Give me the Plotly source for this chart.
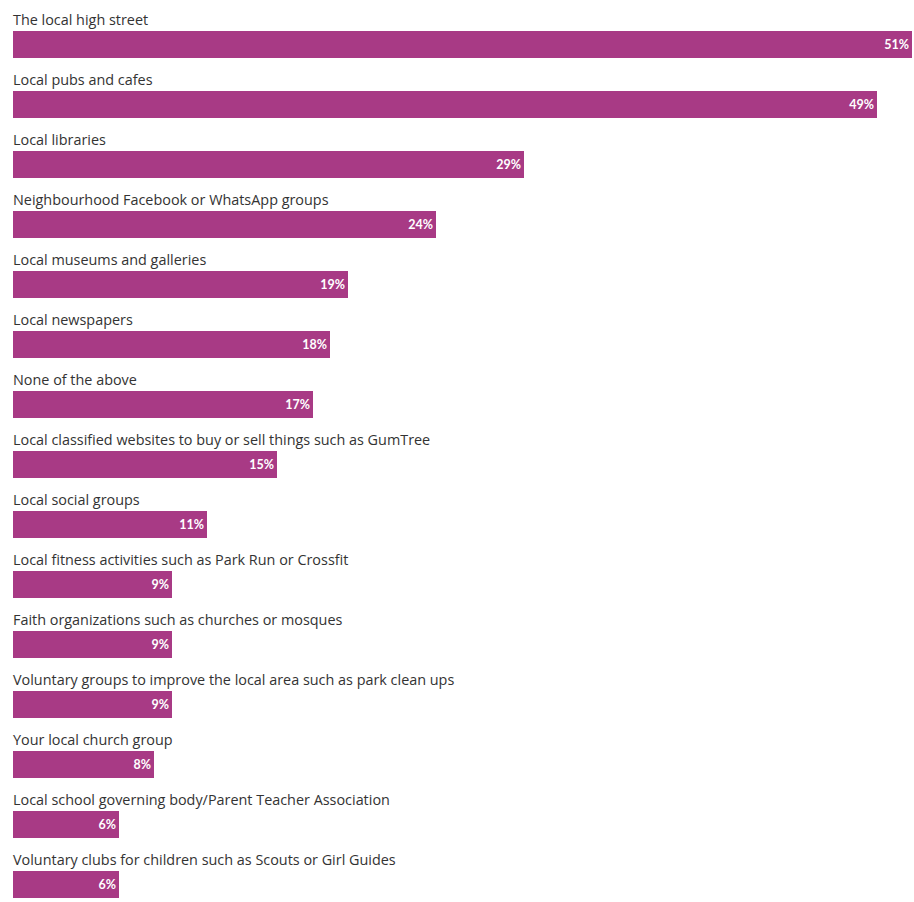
import plotly.graph_objects as go

categories = [
    "The local high street",
    "Local pubs and cafes",
    "Local libraries",
    "Neighbourhood Facebook or WhatsApp groups",
    "Local museums and galleries",
    "Local newspapers",
    "None of the above",
    "Local classified websites to buy or sell things such as GumTree",
    "Local social groups",
    "Local fitness activities such as Park Run or Crossfit",
    "Faith organizations such as churches or mosques",
    "Voluntary groups to improve the local area such as park clean ups",
    "Your local church group",
    "Local school governing body/Parent Teacher Association",
    "Voluntary clubs for children such as Scouts or Girl Guides",
]
values = [51, 49, 29, 24, 19, 18, 17, 15, 11, 9, 9, 9, 8, 6, 6]

BAR_COLOR = "#a83a85"
positions = list(range(len(categories)))

fig = go.Figure()
fig.add_trace(go.Bar(
    x=values,
    y=positions,
    orientation="h",
    width=0.45,
    marker=dict(color=BAR_COLOR, line=dict(width=0)),
    text=[f"{v}%" for v in values],
    textposition="inside",
    insidetextanchor="end",
    textfont=dict(color="white", size=12.5, family="Lato", weight="bold"),
    cliponaxis=False,
    hoverinfo="skip",
))

for p, c in zip(positions, categories):
    fig.add_annotation(
        x=0, y=p - 0.225, xref="x", yref="y",
        text=c, showarrow=False,
        xanchor="left", yanchor="bottom",
        yshift=0, xshift=-2,
        font=dict(size=14.4, color="#333333", family="Open Sans"),
    )

fig.update_layout(
    width=914, height=902,
    margin=dict(l=13, r=2, t=0, b=0),
    paper_bgcolor="white", plot_bgcolor="white",
    showlegend=False,
    bargap=0,
    uniformtext=dict(minsize=8, mode="show"),
)
fig.update_xaxes(range=[0, 51], visible=False, fixedrange=True)
fig.update_yaxes(range=[14.2917, -0.7417], visible=False, fixedrange=True)

fig.write_html(
    "out.html",
    config={"displayModeBar": False},
    post_script="document.body.style.margin='0';document.body.style.overflow='hidden';",
)
